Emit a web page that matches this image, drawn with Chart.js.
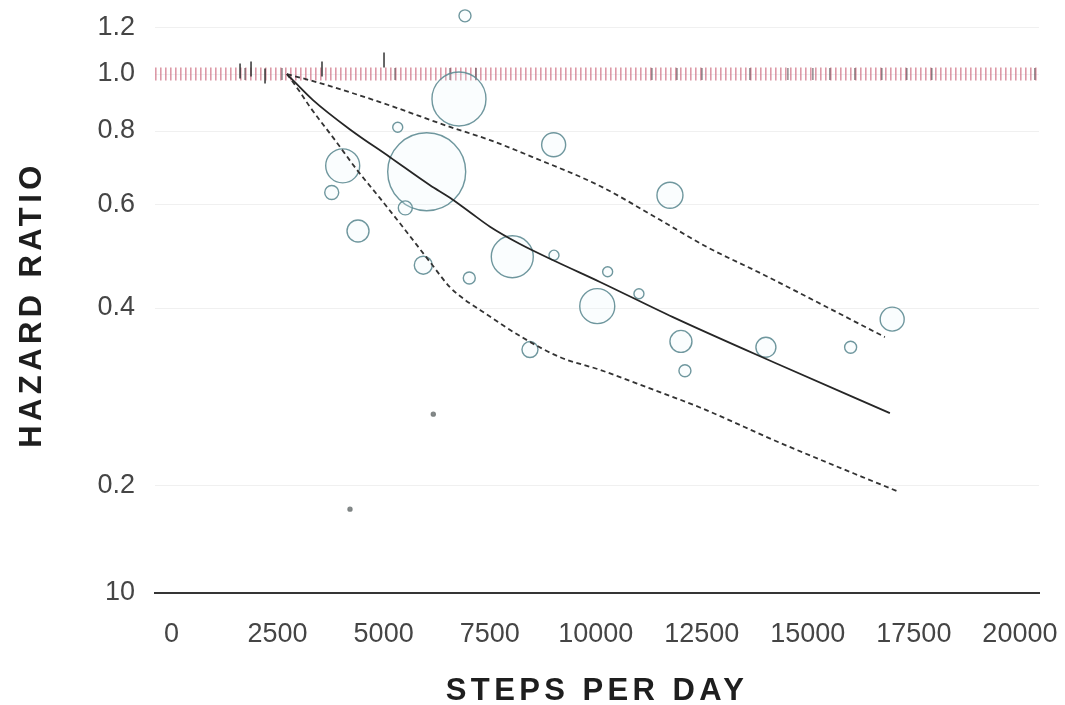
<!DOCTYPE html>
<html>
<head>
<meta charset="utf-8">
<script src="https://cdn.jsdelivr.net/npm/chart.js@4.4.1/dist/chart.umd.min.js"></script>
<style>
  html, body { margin: 0; padding: 0; background: #ffffff; }
  #wrap { width: 1065px; height: 705px; position: relative; }
</style>
</head>
<body>
<div id="wrap"><canvas id="c"></canvas></div>
<script>
// ---------- axis ticks ----------
const xTickValues = [0, 2500, 5000, 7500, 10000, 12500, 15000, 17500, 20000];
const xTickLabels = ['0', '2500', '5000', '7500', '10000', '12500', '15000', '17500', '20000'];
const yTickValues = [0.13106, 0.2, 0.4, 0.6, 0.8, 1.0, 1.2];
const yTickLabels = ['10', '0.2', '0.4', '0.6', '0.8', '1.0', '1.2'];
const xMin = -390, xMax = 20450;
const yMin = 0.13106, yMax = 1.3363;

// ---------- study estimates (bubbles) ----------
const studySteps  = [6918, 6776, 6015, 4035, 3776, 5332, 5511, 4396, 5935, 7019, 8033, 9008, 9016, 8450, 10281, 10036, 11019, 11750, 12009, 12103, 14012, 16009, 16989, 6171, 4207];
const studyHR     = [1.256, 0.907, 0.682, 0.698, 0.629, 0.812, 0.592, 0.541, 0.473, 0.450, 0.489, 0.758, 0.492, 0.340, 0.461, 0.403, 0.423, 0.622, 0.351, 0.313, 0.343, 0.343, 0.383, 0.264, 0.182];
const studyWeight = [6, 27, 39, 17, 7, 5, 7, 11, 9, 6, 21, 12, 5, 8, 5, 17.5, 5, 13, 11, 6, 10, 6, 12, 2, 2];

// ---------- pooled dose-response curve ----------
const fitSteps = [2720, 3335, 4207, 5150, 6093, 6564, 7036, 7507, 8214, 9086, 10100, 11820, 14342, 16935];
const fitHR    = [1.0, 0.903, 0.805, 0.722, 0.647, 0.616, 0.582, 0.550, 0.514, 0.479, 0.443, 0.386, 0.320, 0.265];

// ---------- confidence bounds ----------
const upperSteps = [2720, 3500, 4914, 6564, 7507, 8521, 10100, 11514, 12622, 13871, 16817];
const upperHR    = [1.0, 0.965, 0.896, 0.813, 0.772, 0.722, 0.645, 0.565, 0.508, 0.459, 0.357];
const lowerSteps = [2720, 3029, 3264, 3854, 4372, 4914, 5456, 6093, 6564, 6918, 7271, 8285, 9157, 10100, 11278, 12457, 14342, 17124];
const lowerHR    = [1.0, 0.932, 0.879, 0.772, 0.687, 0.615, 0.549, 0.479, 0.434, 0.413, 0.397, 0.356, 0.330, 0.314, 0.292, 0.271, 0.236, 0.195];

// ---------- reference line HR = 1 and rug marks ----------
const refSteps = [-390, 20400];
const refHR    = [1.0, 1.0];
const rugSteps = [1732, 2604, 5268, 6564, 7177, 11325, 11915, 12504, 13634, 14530, 15119, 15519, 16109, 16745, 17334, 17923, 20351];
const rugHR    = rugSteps.map(() => 1.0);
const markSteps = [1615, 1874, 2204, 3547, 5009];
const markHR    = [1.012, 1.02, 0.992, 1.02, 1.056];

const pts = (xs, ys) => xs.map((x, i) => ({ x: x, y: ys[i] }));
const bubbles = studySteps.map((x, i) => ({ x: x, y: studyHR[i], r: studyWeight[i] }));

const FONT = "'Liberation Sans', Arial, Helvetica, sans-serif";

const spacedTitles = {
  id: 'spacedTitles',
  beforeDraw(chart) {
    ['x', 'y'].forEach(id => {
      const s = chart.scales[id];
      if (s && !s._spacedTitle) {
        const orig = s.drawTitle.bind(s);
        s.drawTitle = function () {
          const ctx = this.ctx;
          ctx.save();
          try { ctx.letterSpacing = '4.4px'; } catch (e) {}
          if (id === 'y') ctx.translate(0, 8);
          orig();
          ctx.restore();
        };
        s._spacedTitle = true;
      }
    });
  }
};

new Chart(document.getElementById('c'), {
  type: 'bubble',
  data: {
    datasets: [
      {
        type: 'line', label: 'Pooled', data: pts(fitSteps, fitHR), order: 0,
        borderColor: '#262626', borderWidth: 1.8, pointRadius: 0,
        cubicInterpolationMode: 'monotone', fill: false, clip: false
      },
      {
        type: 'line', label: 'Upper', data: pts(upperSteps, upperHR), order: 0,
        borderColor: '#333333', borderWidth: 1.8, borderDash: [5, 3.5], pointRadius: 0,
        cubicInterpolationMode: 'monotone', fill: false, clip: false
      },
      {
        type: 'line', label: 'Lower', data: pts(lowerSteps, lowerHR), order: 0,
        borderColor: '#333333', borderWidth: 1.8, borderDash: [5, 3.5], pointRadius: 0,
        cubicInterpolationMode: 'monotone', fill: false, clip: false
      },
      {
        label: 'Studies', data: bubbles, order: 1,
        borderColor: (c) => (c.raw && c.raw.r <= 2) ? 'rgba(120,125,125,0.9)' : 'rgba(95,140,148,0.9)',
        borderWidth: 1.4,
        backgroundColor: (c) => (c.raw && c.raw.r <= 2) ? 'rgba(120,125,125,0.9)' : 'rgba(230,247,249,0.2)',
        clip: false
      },
      {
        type: 'scatter', label: 'Marks', data: pts(markSteps, markHR), order: 1,
        pointStyle: 'line', rotation: 90, pointRadius: 7.5, borderColor: '#333333',
        borderWidth: 1.5, clip: false
      },
      {
        type: 'scatter', label: 'Rug', data: pts(rugSteps, rugHR), order: 2,
        pointStyle: 'line', rotation: 90, pointRadius: 6, borderColor: 'rgba(70,60,65,0.6)',
        borderWidth: 1.5, clip: false
      },
      {
        type: 'line', label: 'HR = 1', data: pts(refSteps, refHR), order: 3,
        borderColor: 'rgba(205,110,130,0.7)', borderWidth: 13, borderDash: [1.6, 3.4],
        borderCapStyle: 'butt', pointRadius: 0, fill: false, clip: false
      }
    ]
  },
  options: {
    responsive: true,
    maintainAspectRatio: false,
    animation: false,
    devicePixelRatio: 1,
    layout: { autoPadding: false, padding: { left: 0, right: 26, top: 0, bottom: 0 } },
    plugins: { legend: { display: false }, tooltip: { enabled: false } },
    scales: {
      x: {
        type: 'linear', position: 'bottom', min: xMin, max: xMax,
        afterBuildTicks: (s) => { s.ticks = xTickValues.map(v => ({ value: v })); },
        afterFit: (s) => { s.height = 112; s.paddingLeft = 0; s.paddingRight = 0; },
        ticks: {
          autoSkip: false, maxRotation: 0, padding: 25, color: '#454545',
          font: { family: FONT, size: 27 },
          callback: (v, i) => xTickLabels[i]
        },
        grid: { display: false, drawTicks: false },
        border: { display: true, color: '#353535', width: 2 },
        title: {
          display: true, text: 'STEPS PER DAY', color: '#1e1e1e',
          font: { family: FONT, size: 31, weight: 'bold', lineHeight: 0.8 },
          padding: { top: 0, bottom: 1 }
        }
      },
      y: {
        type: 'logarithmic', position: 'left', min: yMin, max: yMax,
        afterBuildTicks: (s) => { s.ticks = yTickValues.map(v => ({ value: v })); },
        afterFit: (s) => { s.width = 155; s.paddingTop = 0; s.paddingBottom = 0; },
        ticks: {
          autoSkip: false, padding: 20, color: '#454545',
          font: { family: FONT, size: 27 },
          callback: (v, i) => yTickLabels[i]
        },
        grid: { display: true, drawTicks: false, color: 'rgba(0,0,0,0.06)', lineWidth: 1 },
        border: { display: false },
        title: {
          display: true, text: 'HAZARD RATIO', color: '#1e1e1e',
          font: { family: FONT, size: 31, weight: 'bold', lineHeight: 0.8 },
          padding: { top: 20, bottom: 0 }
        }
      }
    }
  },
  plugins: [spacedTitles]
});
</script>
</body>
</html>
